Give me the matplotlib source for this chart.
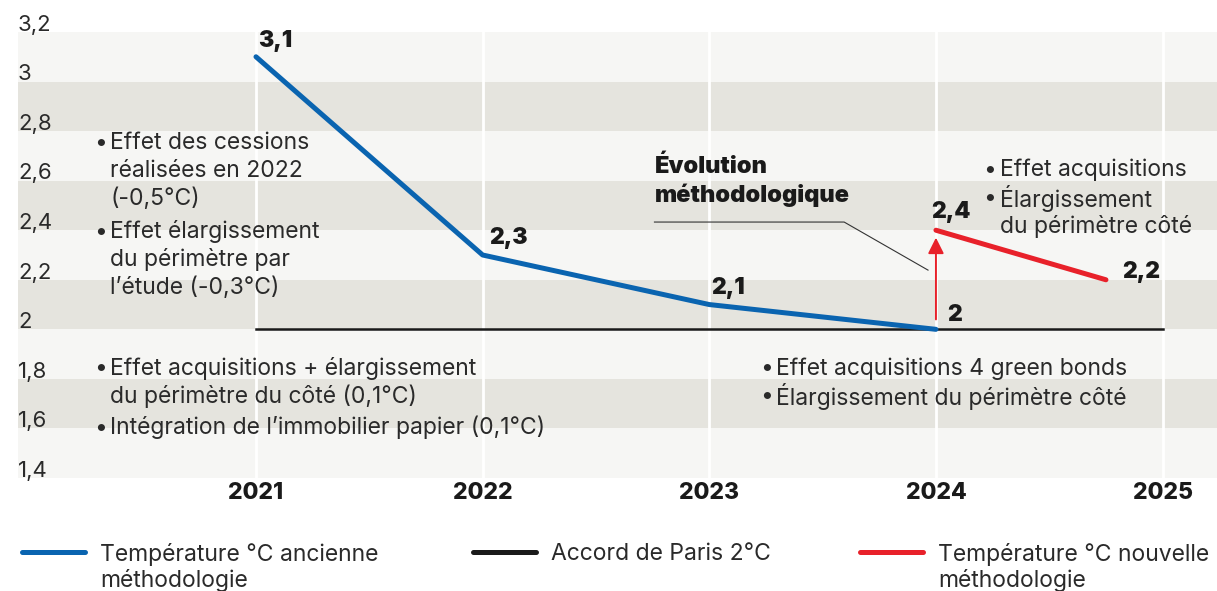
import matplotlib.pyplot as plt
from matplotlib.lines import Line2D
from matplotlib import transforms

plt.rcParams['font.family'] = ['Inter', 'DejaVu Sans']

# données
annees = [2021, 2022, 2023, 2024, 2025]
ancienne_x = [2021, 2022, 2023, 2024]
ancienne_y = [3.1, 2.3, 2.1, 2.0]
nouvelle_x = [2024, 2024.75]
nouvelle_y = [2.4, 2.2]
paris_x = [2021, 2025]
paris_y = [2.0, 2.0]
yticks = [1.4, 1.6, 1.8, 2.0, 2.2, 2.4, 2.6, 2.8, 3.0, 3.2]
ytick_labels = ['1,4', '1,6', '1,8', '2', '2,2', '2,4', '2,6', '2,8', '3', '3,2']

bleu = '#0a64b0'
rouge = '#e8212a'
noir = '#1a1a1a'
clair = '#f6f6f4'
fonce = '#e5e4de'
gris_txt = '#2a2a2a'

fig = plt.figure(figsize=(12.17, 5.91), dpi=100)
ax = fig.add_axes([18/1217, 113/591, 1 - 18/1217, 446/591])
ax.set_facecolor(clair)
ax.set_xlim(2019.95, 2025.24)
ax.set_ylim(1.4, 3.2)

for i in range(len(yticks) - 1):
    if i % 2 == 1:
        ax.axhspan(yticks[i], yticks[i + 1], color=fonce, lw=0, zorder=0)
for a in annees:
    ax.axvline(a, color='white', lw=2, zorder=1)

for s in ax.spines.values():
    s.set_visible(False)

# lignes
l_paris, = ax.plot(paris_x, paris_y, color=noir, lw=1.8, zorder=2)
l_anc, = ax.plot(ancienne_x, ancienne_y, color=bleu, lw=3.6, solid_capstyle='round', zorder=3)
l_nouv, = ax.plot(nouvelle_x, nouvelle_y, color=rouge, lw=3.6, solid_capstyle='round', zorder=3)

ax.annotate('', xy=(2024, 2.37), xytext=(2024, 2.04),
            arrowprops=dict(arrowstyle='-|>', color=rouge, lw=1.4, mutation_scale=24,
                            shrinkA=0, shrinkB=0), zorder=4)

# axes
ax.set_yticks([])
ax.set_xticks(annees)
ax.set_xticklabels([str(a) for a in annees], fontsize=16.5, fontweight='heavy', color=noir)
ax.tick_params(axis='x', length=0, pad=3)
trans = transforms.blended_transform_factory(ax.transAxes, ax.transData)
for v, lab in zip(yticks, ytick_labels):
    ax.text(0, v + 0.005, lab, transform=trans, ha='left', va='baseline', fontsize=16,
            color=gris_txt)

# valeurs
val_kw = dict(fontsize=16.5, fontweight='black', color=noir, va='center', ha='left')
ax.text(2021.01, 3.162, '3,1', **val_kw)
ax.text(2022.03, 2.368, '2,3', **val_kw)
ax.text(2023.01, 2.166, '2,1', **val_kw)
ax.text(2024.05, 2.057, '2', **val_kw)
ax.text(2023.98, 2.474, '2,4', **val_kw)
ax.text(2024.82, 2.231, '2,2', **val_kw)

# notes
note_kw = dict(fontsize=16.5, color=gris_txt, va='center', ha='left')


def puce(x, y, lignes, dy=0.113):
    ax.text(x - 0.072, y, '•', **note_kw)
    for k, t in enumerate(lignes):
        ax.text(x, y - k * dy, t, **note_kw)


puce(2020.357, 2.753, ['Effet des cessions', 'réalisées en 2022', '(-0,5°C)'])
puce(2020.357, 2.393, ['Effet élargissement', 'du périmètre par', 'l’étude (-0,3°C)'])
puce(2020.357, 1.842, ['Effet acquisitions + élargissement', 'du périmètre du côté (0,1°C)'])
puce(2020.357, 1.603, ['Intégration de l’immobilier papier (0,1°C)'])
puce(2023.295, 1.842, ['Effet acquisitions 4 green bonds'])
puce(2023.295, 1.729, ['Élargissement du périmètre côté'])
puce(2024.282, 2.644, ['Effet acquisitions'])
puce(2024.282, 2.530, ['Élargissement', 'du périmètre côté'])

ax.text(2022.758, 2.656, 'Évolution', fontsize=17, fontweight='black', color=noir, va='center')
ax.text(2022.758, 2.543, 'méthodologique', fontsize=17, fontweight='black', color=noir, va='center')
ax.plot([2022.758, 2023.595, 2023.965], [2.433, 2.433, 2.239], color='#333333', lw=0.8, zorder=2)

# légende
leg_kw = dict(frameon=False, fontsize=16.5, handlelength=2.75, handletextpad=0.65,
              loc='center left', labelcolor=gris_txt, borderpad=0, borderaxespad=0)
h_paris = Line2D([], [], color=noir, lw=3.6, solid_capstyle='round')
specs = [(l_anc, 'Température °C ancienne', 'méthodologie', 22),
         (h_paris, 'Accord de Paris 2°C', '', 473),
         (l_nouv, 'Température °C nouvelle', 'méthodologie', 860)]
for h, lab, lab2, px in specs:
    fig.legend(handles=[h], labels=[lab], bbox_to_anchor=(px / 1217, 37 / 591), **leg_kw)
    if lab2:
        fig.text((px + 78) / 1217, 11 / 591, lab2, fontsize=16.5, color=gris_txt, va='center')

fig.savefig('out.png', dpi=100)
